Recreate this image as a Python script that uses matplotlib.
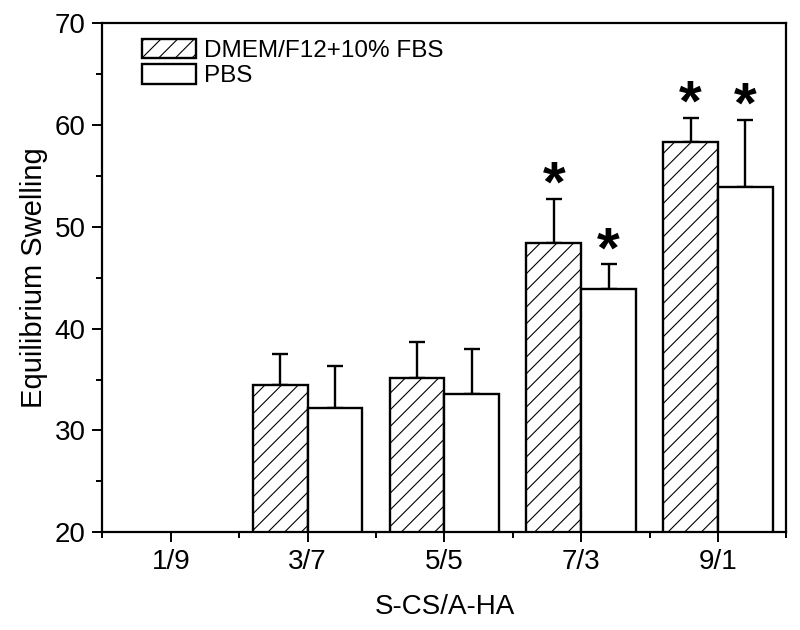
import matplotlib
matplotlib.use("Agg")
import matplotlib.pyplot as plt
from matplotlib.ticker import MultipleLocator
import numpy as np

# =========================================
# DATA
# =========================================

categories = ["1/9", "3/7", "5/5", "7/3", "9/1"]

dmem_mean = [np.nan, 34.5, 35.2, 48.4, 58.3]
dmem_err = [np.nan, 3.0, 3.5, 4.3, 2.4]

pbs_mean = [np.nan, 32.2, 33.6, 43.9, 53.9]
pbs_err = [np.nan, 4.1, 4.4, 2.4, 6.6]

# significance marks (True = star above bar)
dmem_star = [False, False, False, True, True]
pbs_star = [False, False, False, True, True]

# =========================================
# STYLE
# =========================================

plt.rcParams['font.family'] = ['Liberation Sans', 'DejaVu Sans']
plt.rcParams['hatch.linewidth'] = 0.8

fig = plt.figure(figsize=(8, 6.3), dpi=100)
ax = fig.add_axes([0.128, 0.155, 0.855, 0.8085])

x = np.arange(len(categories))
width = 0.4

dmem_mean = np.array(dmem_mean)
pbs_mean = np.array(pbs_mean)
dmem_err = np.array(dmem_err)
pbs_err = np.array(pbs_err)

# =========================================
# BARS
# =========================================

ax.bar(x - width / 2, dmem_mean, width, facecolor='white', edgecolor='black',
       linewidth=1.7, hatch='//', label='DMEM/F12+10% FBS', zorder=2)
ax.bar(x + width / 2, pbs_mean, width, facecolor='white', edgecolor='black',
       linewidth=1.7, label='PBS', zorder=2)

# upper error bars only
ax.errorbar(x - width / 2, dmem_mean, yerr=[np.zeros_like(dmem_err), dmem_err],
            fmt='none', ecolor='black', elinewidth=1.7, capsize=5.5, capthick=1.7, zorder=1)
ax.errorbar(x + width / 2, pbs_mean, yerr=[np.zeros_like(pbs_err), pbs_err],
            fmt='none', ecolor='black', elinewidth=1.7, capsize=5.5, capthick=1.7, zorder=1)

# =========================================
# STARS
# =========================================

for i in range(len(categories)):
    if dmem_star[i]:
        ax.annotate('*', xy=(x[i] - width / 2, dmem_mean[i] + dmem_err[i]),
                    xytext=(0, -2), textcoords='offset points',
                    ha='center', va='baseline', fontsize=42, fontweight='bold')
    if pbs_star[i]:
        ax.annotate('*', xy=(x[i] + width / 2, pbs_mean[i] + pbs_err[i]),
                    xytext=(0, -2), textcoords='offset points',
                    ha='center', va='baseline', fontsize=42, fontweight='bold')

# =========================================
# AXES
# =========================================

ax.set_xlim(-0.5, 4.5)
ax.set_ylim(20, 70)

ax.set_xticks(x)
ax.set_xticklabels(categories)
ax.xaxis.set_minor_locator(MultipleLocator(0.5))
ax.yaxis.set_major_locator(MultipleLocator(10))
ax.yaxis.set_minor_locator(MultipleLocator(5))

ax.tick_params(which='major', direction='out', length=7, width=1.4, labelsize=20, pad=5)
ax.tick_params(which='minor', direction='out', length=4, width=1.4)

for s in ax.spines.values():
    s.set_linewidth(1.6)

ax.set_xlabel('S-CS/A-HA', fontsize=20, labelpad=14)
ax.set_ylabel('Equilibrium Swelling', fontsize=21, labelpad=5)

ax.legend(loc='upper left', bbox_to_anchor=(0.035, 1.0), frameon=False,
          fontsize=17.5, handlelength=2.2, handleheight=0.85, handletextpad=0.35,
          labelspacing=0.1, borderaxespad=0.25)

fig.savefig("out.png", dpi=100)
